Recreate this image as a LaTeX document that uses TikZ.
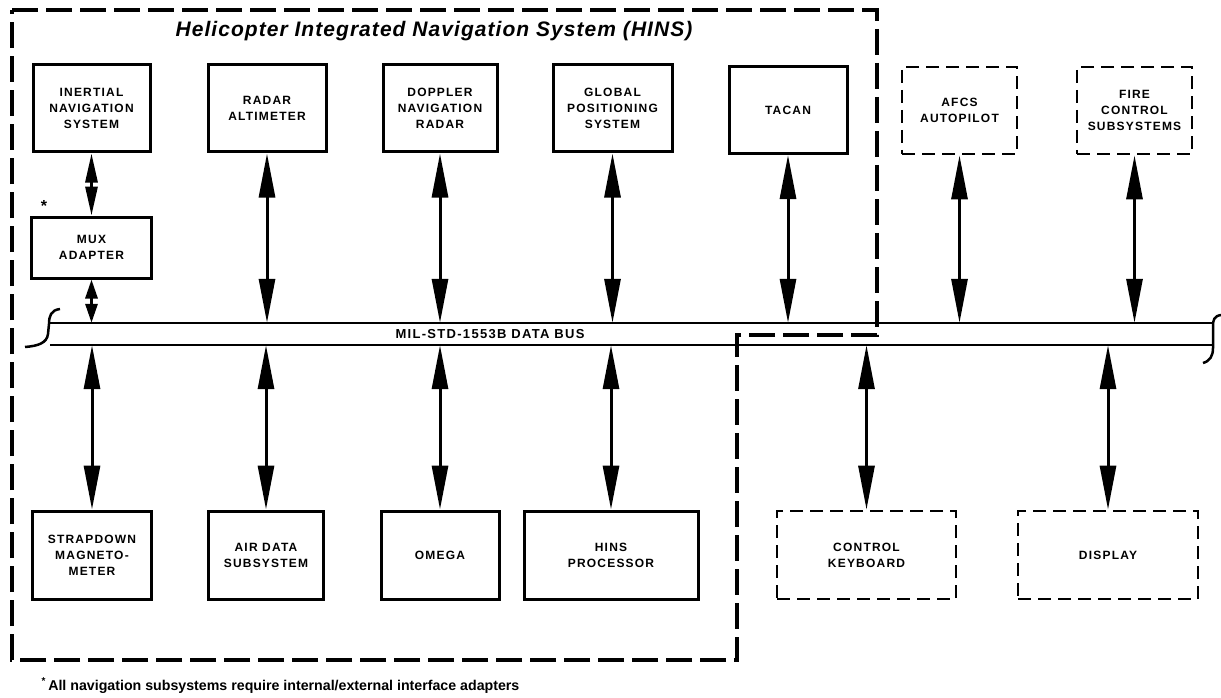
\documentclass[tikz,border=0pt]{standalone}
\usepackage{fontspec}
\setmainfont{Liberation Sans}
\newfontfamily\boxfont[LetterSpace=10]{Liberation Sans}
\newfontfamily\titlefont[LetterSpace=5]{Liberation Sans}
\usetikzlibrary{arrows.meta,positioning}

\begin{document}
\begin{tikzpicture}[x=1pt,y=-1pt,
  unit/.style={draw,line width=3pt,align=center,inner sep=0pt,
    font=\boxfont\bfseries\fontsize{12}{16}\selectfont},
  extunit/.style={unit,line width=2.8pt,dash pattern=on 13pt off 7pt},
  link/.style={line width=3pt,
    {Triangle[length=44pt,width=16pt]}-{Triangle[length=44pt,width=16pt]}},
  shortlink/.style={line width=3pt,
    {Triangle[length=#1,width=12pt]}-{Triangle[length=#1,width=12pt]}}]
  \useasboundingbox (0,0) rectangle (1221,698);

  % top row
  \node[unit,minimum width=117pt,minimum height=87pt] (ins) at (91.5,108.5)
    {INERTIAL\\NAVIGATION\\SYSTEM};
  \node[unit,minimum width=118pt,minimum height=87pt] (radar) at (267,108.5)
    {RADAR\\ALTIMETER};
  \node[unit,minimum width=114pt,minimum height=87pt] (doppler) at (440,108.5)
    {DOPPLER\\NAVIGATION\\RADAR};
  \node[unit,minimum width=119pt,minimum height=87pt] (gps) at (612.5,108.5)
    {GLOBAL\\POSITIONING\\SYSTEM};
  \node[unit,minimum width=118pt,minimum height=87pt] (tacan) at (788,110)
    {TACAN};
  \node[extunit,minimum width=115pt,minimum height=87pt] (afcs) at (959.5,110.5)
    {AFCS\\AUTOPILOT};
  \node[extunit,minimum width=115pt,minimum height=87pt] (fire) at (1134.5,110.5)
    {FIRE\\CONTROL\\SUBSYSTEMS};
  \node[unit,minimum width=120pt,minimum height=61pt] (mux) at (91.5,247.5)
    {MUX\\ADAPTER};
  \node[font=\bfseries\fontsize{16}{16}\selectfont] (star) at (44,206) {*};

  % data bus
  \node[minimum width=1162pt,minimum height=22pt,inner sep=0pt] (bus) at (631,334) {};
  \draw[line width=2.5pt] (bus.north west) -- (bus.north east)
    (bus.south west) -- (bus.south east);
  \draw[line width=2.5pt] (60,309) .. controls (51,310) and (49,316) .. (49,324)
    -- (48,334) .. controls (47,343) and (38,346) .. (25,347);
  \draw[line width=2.5pt] (1221,315) .. controls (1214,316) and (1213,320) .. (1213,326)
    -- (1213,348) .. controls (1213,356) and (1210,361) .. (1203,363);
  \node[font=\boxfont\bfseries\fontsize{13}{15}\selectfont] (buslabel) at (490,334)
    {MIL-STD-1553B DATA BUS};

  % bottom row
  \node[unit,minimum width=119pt,minimum height=88pt] (strap) at (92,555)
    {STRAPDOWN\\MAGNETO-\\METER};
  \node[unit,minimum width=115pt,minimum height=88pt] (airdata) at (266,555)
    {AIR DATA\\SUBSYSTEM};
  \node[unit,minimum width=118pt,minimum height=88pt] (omega) at (440,555)
    {OMEGA};
  \node[unit,minimum width=174pt,minimum height=88pt] (proc) at (611,555)
    {HINS\\PROCESSOR};
  \node[extunit,minimum width=179pt,minimum height=88pt] (keyboard) at (866.5,555)
    {CONTROL\\KEYBOARD};
  \node[extunit,minimum width=180pt,minimum height=88pt] (display) at (1108,555)
    {DISPLAY};

  % connections to the bus
  \draw[shortlink=29pt] (ins.south) -- (mux.north);
  \draw[shortlink=19pt] (mux.south) -- (mux.south |- bus.north);
  \foreach \n in {radar,doppler,gps,tacan,afcs,fire}
    \draw[link] (\n.south) -- (\n.south |- bus.north);
  \foreach \n in {strap,airdata,omega,proc,keyboard,display}
    \draw[link] (\n.north) -- (\n.north |- bus.south);

  % HINS boundary
  \draw[line width=3.2pt,dash pattern=on 26pt off 8pt]
    (12,10) -- (877,10) -- (877,335) -- (737,335) -- (737,660) -- (12,660) -- cycle;
  \node[font=\titlefont\bfseries\itshape\fontsize{21}{25}\selectfont,anchor=base]
    (title) at (434,37) {Helicopter Integrated Navigation System (HINS)};

  \node[anchor=base west,font=\bfseries\fontsize{14.2}{16}\selectfont] (note) at (38,690)
    {\textsuperscript{*}\,All navigation subsystems require internal/external interface adapters};
\end{tikzpicture}
\end{document}
